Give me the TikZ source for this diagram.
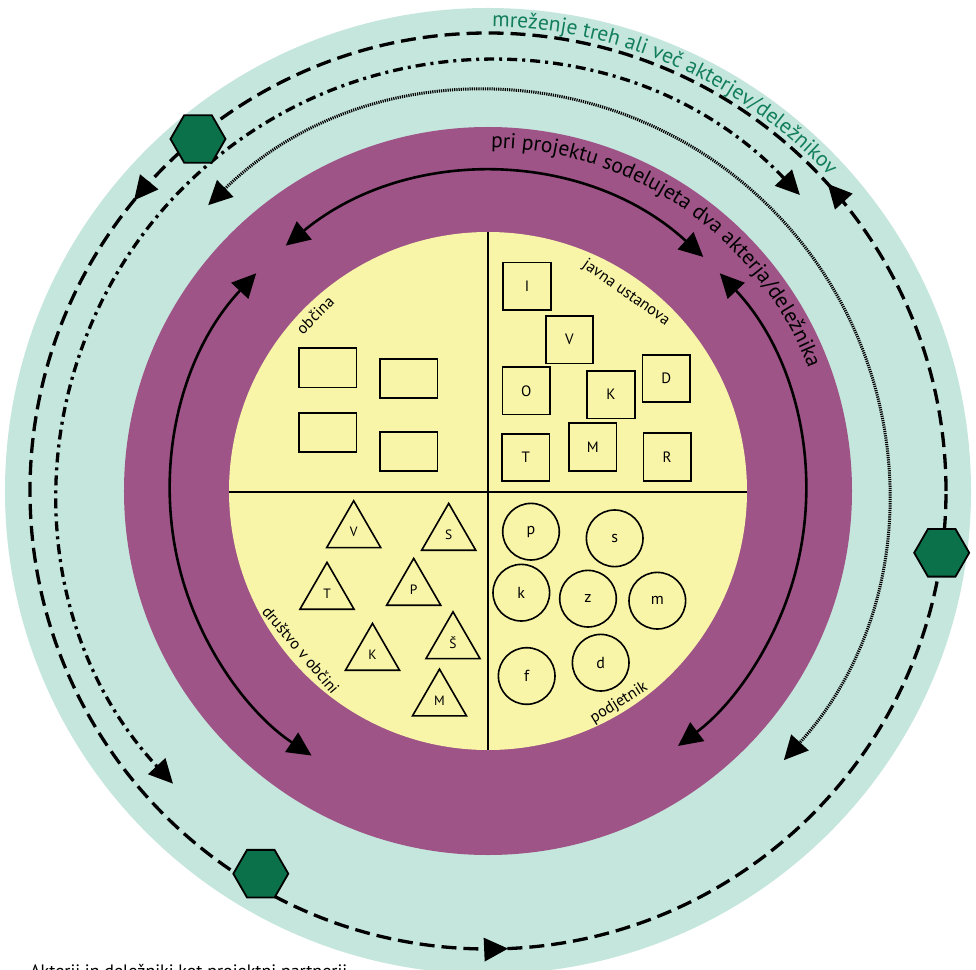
\documentclass[tikz,border=0pt]{standalone}
\usepackage{fontspec}
\setmainfont{PT Sans}
\usetikzlibrary{arrows.meta,shapes.geometric,decorations.text,decorations.markings}
\definecolor{ringteal}{HTML}{C5E6DC}
\definecolor{ringpurple}{HTML}{9E5487}
\definecolor{coreyellow}{HTML}{F8F4A8}
\definecolor{hexgreen}{HTML}{0B714A}
\definecolor{tealtext}{HTML}{127E5A}
\begin{document}
\begin{tikzpicture}[x=1pt,y=1pt,
  >={Triangle[length=24pt,width=23pt]},
  solidarc/.style={line width=2.6pt,<->},
  dottedarc/.style={line width=3pt,dash pattern=on 1.2pt off 1pt,<->},
  dashdotarc/.style={line width=3.3pt,dash pattern=on 10pt off 5pt on 3pt off 5pt,<->},
  dashedring/.style={line width=3.3pt,dash pattern=on 15pt off 7pt},
  hexnode/.style={regular polygon,regular polygon sides=6,minimum size=55pt,inner sep=0pt,draw=black,line width=1.8pt,fill=hexgreen},
  sqnode/.style={draw,line width=1.6pt,minimum size=47.5pt,inner sep=0pt,font=\fontsize{15}{18}\selectfont},
  rectnode/.style={draw,line width=1.6pt,minimum width=57.4pt,minimum height=39pt,inner sep=0pt},
  trinode/.style={regular polygon,regular polygon sides=3,draw,line width=1.6pt,minimum size=62.4pt,inner sep=0pt,font=\fontsize{13.5}{15}\selectfont},
  circnode/.style={circle,draw,line width=1.6pt,minimum size=56.6pt,inner sep=0pt,font=\fontsize{16}{19}\selectfont},
  quadlabel/.style={font=\fontsize{16}{19}\selectfont,inner sep=0pt}
]
\fill[white] (-488,-478) rectangle (488,491);
\useasboundingbox (-488,-478) rectangle (488,491);
% rings
\fill[ringteal] (0,0) circle[radius=483];
\fill[ringpurple] (0,0) circle[radius=364];
\fill[coreyellow] (0,0) circle[radius=259];
\draw[line width=1.5pt] (0,259) -- (0,-259);
\draw[line width=1.5pt] (-259,-1) -- (259,-1);
% inner double arrows
\draw[solidarc] (129.5:318) arc[start angle=129.5,end angle=47.4,radius=318];
\draw[solidarc] (43.2:318) arc[start angle=43.2,end angle=-53.3,radius=318];
\draw[solidarc] (136.8:318) arc[start angle=136.8,end angle=236.3,radius=318];
% outer lines
\draw[dottedarc] (134.4:400) arc[start angle=134.4,end angle=-42.3,radius=400];
\draw[dashdotarc] (43.5:430) arc[start angle=43.5,end angle=222.9,radius=430];
\draw[dashedring,postaction={decorate},decoration={markings,
  mark=at position 0.117 with {\arrow{>}},
  mark=at position 0.3906 with {\arrow{>}},
  mark=at position 0.757 with {\arrow{>}}}]
  (0:458) arc[start angle=0,end angle=360,radius=458];
% arc texts
\path[decorate,decoration={text along path,text color=tealtext,text align=left,
  text={|\fontsize{21.5}{25}\selectfont|mreženje treh ali več akterjev/deležnikov}}]
  (89.5:464) arc[start angle=89.5,end angle=10,radius=464];
\path[decorate,decoration={text along path,text color=black,text align=left,
  text={|\fontsize{21.5}{25}\selectfont|pri projektu sodelujeta dva akterja/deležnika}}]
  (89.5:343) arc[start angle=89.5,end angle=0,radius=343];
\begin{scope}[shift={(-488,491)},yscale=-1]
  % quadrant labels
  \node[quadlabel,rotate=44.5] (lobc) at (315,315) {občina};
  \node[quadlabel,rotate=-35] (ljav) at (626,293) {javna ustanova};
  \node[quadlabel,rotate=-49.6] (ldru) at (301,650) {društvo v občini};
  \node[quadlabel,rotate=32] (lpod) at (619,703) {podjetnik};
  % rectangles
  \node[rectnode] (r1) at (328,367.8) {};
  \node[rectnode] (r2) at (408.8,378.2) {};
  \node[rectnode] (r3) at (328,432.2) {};
  \node[rectnode] (r4) at (408.8,451.2) {};
  % squares
  \node[sqnode] (sI) at (527,286.3) {I};
  \node[sqnode] (sV) at (569.5,339.7) {V};
  \node[sqnode] (sO) at (526.2,390.8) {O};
  \node[sqnode] (sK) at (611,394.7) {K};
  \node[sqnode] (sD) at (666.2,378.5) {D};
  \node[sqnode] (sT) at (525.8,457.5) {T};
  \node[sqnode] (sM) at (592.8,447) {M};
  \node[sqnode] (sR) at (667.2,457) {R};
  % triangles
  \node[trinode] (tV) at (353.7,532) {V};
  \node[trinode] (tS) at (448.7,534.6) {S};
  \node[trinode] (tT) at (327,593.6) {T};
  \node[trinode] (tP) at (413.7,589.6) {P};
  \node[trinode] (tSh) at (453,643) {Š};
  \node[trinode] (tK) at (372.5,654.6) {K};
  \node[trinode] (tM) at (439.5,700.3) {M};
  % circles
  \node[circnode] (cp) at (531,531.7) {p};
  \node[circnode] (cs) at (614.7,538.3) {s};
  \node[circnode] (ck) at (521.3,592.7) {k};
  \node[circnode] (cz) at (588,598.7) {z};
  \node[circnode] (cm) at (657.3,600.7) {m};
  \node[circnode] (cf) at (526.7,676) {f};
  \node[circnode] (cd) at (600.7,662.7) {d};
  % hexagons
  \node[hexnode] (h1) at (198,139) {};
  \node[hexnode] (h2) at (941.7,552.8) {};
  \node[hexnode] (h3) at (260.8,873.7) {};
  % cut-off caption
  \node[anchor=base west,inner sep=0pt,font=\fontsize{18}{21}\selectfont] (cap) at (30,977) {Akterji in deležniki kot projektni partnerji};
\end{scope}
\end{tikzpicture}
\end{document}
